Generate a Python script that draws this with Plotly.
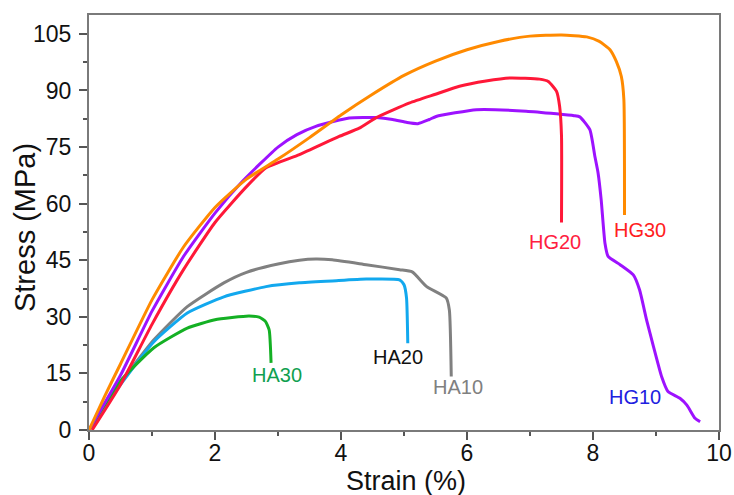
import plotly.graph_objects as go

# ---- data ----
hg30_x = [0, 0.25, 0.5, 1.0, 1.5, 2.0, 2.5, 3.0, 3.5, 4.0, 4.5, 5.0, 5.5, 6.0, 6.5, 7.0, 7.5, 7.9, 8.1, 8.27, 8.37, 8.45, 8.49, 8.5]
hg30_y = [0, 9, 17.5, 34.5, 48.5, 59, 66.5, 71.8, 77.5, 83.5, 89, 94, 97.8, 100.8, 103, 104.4, 104.7, 104.2, 103, 100.8, 97.7, 93.7, 87.6, 57]

hg20_x = [0.05, 0.5, 1.0, 1.5, 2.0, 2.5, 2.81, 3.34, 3.97, 4.29, 4.56, 5.09, 5.5, 5.88, 6.3, 6.68, 7.15, 7.29, 7.42, 7.47, 7.5, 7.5]
hg20_y = [0, 12, 28, 42.5, 55, 64.5, 69.5, 73, 77.8, 80, 82.8, 86.7, 89, 91.1, 92.5, 93.3, 93, 92.4, 89.8, 85.8, 78, 55]

hg10_x = [0, 0.5, 1.0, 1.5, 2.0, 2.44, 3.0, 3.3, 3.6, 4.13, 4.56, 4.82, 5.05, 5.22, 5.4, 5.51, 6.15, 6.94, 7.42, 7.7, 7.79, 7.95, 8.03, 8.08, 8.13, 8.19, 8.24, 8.43, 8.64, 8.74, 8.85, 8.96, 9.09, 9.19, 9.38, 9.49, 9.62, 9.7]
hg10_y = [0, 14.5, 31.5, 46, 57.5, 66, 75, 78.3, 80.5, 82.7, 82.8, 82.3, 81.5, 81.2, 82.3, 83.1, 84.9, 84.5, 83.8, 83.3, 83, 79.6, 72.5, 68.2, 61, 49.5, 46, 43.8, 41.1, 37.1, 29.2, 22.1, 14.1, 10.2, 8.4, 6.6, 3.1, 2.2]

ha10_x = [0, 0.5, 1.03, 1.56, 2.14, 2.5, 3.0, 3.34, 3.6, 3.86, 4.4, 4.93, 5.13, 5.36, 5.67, 5.72, 5.75]
ha10_y = [0, 12.5, 23.9, 32.7, 39, 41.8, 44, 45, 45.3, 45.1, 43.8, 42.5, 41.9, 38, 35, 31.8, 14.2]

ha20_x = [0, 0.5, 1.03, 1.56, 2.14, 2.81, 3.34, 3.86, 4.4, 4.93, 5.0, 5.04, 5.06]
ha20_y = [0, 12, 23.4, 31, 35.3, 38, 39, 39.5, 40, 39.8, 38.5, 35, 23]

ha30_x = [0, 0.5, 1.03, 1.56, 2.0, 2.27, 2.54, 2.7, 2.8, 2.86, 2.89]
ha30_y = [0, 13, 21.8, 27, 29.2, 29.8, 30.2, 29.9, 28.8, 26.5, 17.8]

x_ticks = [0, 2, 4, 6, 8, 10]
y_ticks = [0, 15, 30, 45, 60, 75, 90, 105]

series = [
    ("HA10", ha10_x, ha10_y, "#808080"),
    ("HA20", ha20_x, ha20_y, "#12a8ee"),
    ("HA30", ha30_x, ha30_y, "#14b024"),
    ("HG10", hg10_x, hg10_y, "#9d12ff"),
    ("HG20", hg20_x, hg20_y, "#ff1838"),
    ("HG30", hg30_x, hg30_y, "#ff8a00"),
]

FAM = "Liberation Sans, Arial"

fig = go.Figure()
for name, xs, ys, col in series:
    fig.add_trace(go.Scatter(x=xs, y=ys, mode="lines", name=name,
                             line=dict(color=col, width=3, shape="spline", smoothing=0.5),
                             showlegend=False))

labels = [
    ("HG20", 7.39, 49.9, "#ff2040"),
    ("HG30", 8.74, 53.1, "#ff2020"),
    ("HA30", 2.99, 14.6, "#10a050"),
    ("HA20", 4.91, 19.4, "#111111"),
    ("HA10", 5.85, 11.4, "#808080"),
    ("HG10", 8.66, 8.8, "#2020e0"),
]
for t, lx, ly, c in labels:
    fig.add_annotation(x=lx, y=ly, xref="x", yref="y", text=t, showarrow=False,
                       font=dict(size=20, color=c, family=FAM))

# axis titles
fig.add_annotation(x=0.503, y=-0.122, xref="paper", yref="paper", text="Strain (%)",
                   showarrow=False, xanchor="center", yanchor="middle",
                   font=dict(size=27, color="#111111", family=FAM))
fig.add_annotation(x=-0.1016, y=0.489, xref="paper", yref="paper", text="Stress (MPa)",
                   showarrow=False, xanchor="center", yanchor="middle", textangle=-90,
                   font=dict(size=29, color="#111111", family=FAM))

font = dict(family=FAM, size=23, color="#111111")
axis_common = dict(showgrid=False, zeroline=False, showline=True, mirror=True,
                   linecolor="#7a7a7a", linewidth=2, ticks="outside", ticklen=8,
                   tickwidth=2, tickcolor="#555555", tickfont=font, automargin=False,
                   minor=dict(ticks="outside", ticklen=4, tickwidth=1.5, tickcolor="#555555"))

fig.update_xaxes(range=[0, 10], tickvals=x_ticks, minor_dtick=1, ticklabelstandoff=-7, **axis_common)
fig.update_yaxes(range=[0, 110], tickvals=y_ticks, minor_dtick=7.5, ticklabelstandoff=3, **axis_common)

fig.update_layout(width=734, height=495, margin=dict(l=89, r=15, t=15, b=65),
                  plot_bgcolor="white", paper_bgcolor="white")

fig.write_html("out.html")
